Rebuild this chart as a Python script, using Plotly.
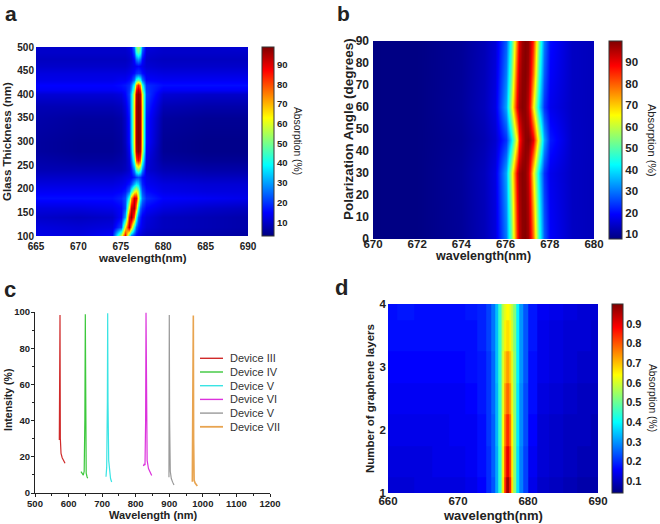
import plotly.graph_objects as go

W, H = 660, 524
FONT = "Arial, Liberation Sans, sans-serif"
INK = "#222"

def px(x):
    return x / W

def py(y):
    return 1 - y / H

JET = [[0, "rgb(0,0,128)"], [0.125, "rgb(0,0,255)"], [0.375, "rgb(0,255,255)"],
       [0.625, "rgb(255,255,0)"], [0.875, "rgb(255,0,0)"], [1, "rgb(128,0,0)"]]

# ---------------- Panel a: absorption (%) vs wavelength and glass thickness
a_wavelength = [665, 670, 674, 675, 675.5, 676, 676.25, 676.5, 676.75, 677, 677.25, 677.5, 678, 680, 685, 690]
a_thickness = [100, 120, 140, 160, 180, 195, 210, 225, 240, 260, 280, 300, 350, 375, 400, 410, 420, 430, 445, 460, 475, 490, 500]
a_absorption = [
    [13, 12, 15, 60, 90, 40, 23, 17, 14, 12, 11, 10, 9, 8, 7, 6],
    [12, 11, 12, 22, 64, 95, 72, 41, 24, 18, 15, 13, 11, 9, 8, 7],
    [10, 9, 10, 15, 31, 88, 98, 79, 45, 25, 18, 14, 12, 9, 8, 7],
    [12, 12, 13, 15, 22, 65, 91, 95, 73, 42, 25, 19, 15, 12, 10, 9],
    [16, 16, 16, 18, 22, 43, 72, 92, 89, 64, 39, 26, 19, 15, 14, 13],
    [14, 14, 14, 15, 17, 25, 41, 59, 64, 54, 34, 22, 16, 13, 12, 12],
    [12, 12, 12, 13, 14, 17, 22, 32, 38, 35, 26, 18, 14, 12, 11, 11],
    [10, 10, 10, 11, 12, 13, 14, 17, 20, 22, 20, 16, 13, 10, 9, 9],
    [8, 8, 8, 8, 9, 11, 16, 27, 44, 50, 44, 27, 11, 8, 7, 7],
    [7, 6, 6, 7, 8, 12, 24, 46, 80, 88, 80, 46, 12, 6, 5, 5],
    [6, 5, 5, 6, 8, 14, 30, 60, 94, 98, 94, 60, 14, 5, 4, 4],
    [6, 5, 5, 6, 9, 16, 33, 63, 96, 99, 96, 63, 16, 5, 4, 4],
    [7, 6, 6, 7, 10, 17, 34, 64, 96, 99, 96, 64, 17, 6, 5, 5],
    [8, 8, 8, 9, 12, 19, 35, 64, 96, 99, 96, 64, 19, 8, 7, 7],
    [11, 11, 11, 12, 15, 21, 35, 62, 94, 98, 94, 62, 21, 11, 10, 10],
    [14, 14, 14, 15, 16, 20, 30, 52, 86, 94, 86, 52, 20, 14, 14, 14],
    [15, 15, 15, 16, 17, 19, 26, 42, 74, 85, 74, 42, 19, 16, 16, 16],
    [13, 13, 13, 14, 14, 16, 18, 26, 42, 48, 42, 26, 15, 14, 14, 14],
    [12, 12, 12, 12, 12, 13, 14, 16, 19, 20, 19, 16, 13, 12, 12, 12],
    [10, 10, 10, 10, 10, 11, 12, 13, 14, 15, 14, 13, 11, 10, 10, 10],
    [9, 9, 9, 9, 9, 10, 11, 16, 26, 30, 26, 16, 10, 9, 9, 9],
    [10, 10, 10, 10, 10, 11, 13, 22, 42, 48, 42, 22, 11, 10, 10, 10],
    [10, 10, 10, 10, 10, 12, 15, 26, 48, 55, 48, 26, 12, 10, 10, 11],
]
a_xticks = [665, 670, 675, 680, 685, 690]
a_yticks = [100, 150, 200, 250, 300, 350, 400, 450, 500]
a_cbticks = [10, 20, 30, 40, 50, 60, 70, 80, 90]

# ---------------- Panel b: absorption (%) vs wavelength and polarization angle
b_wavelength = [670, 672, 674, 675, 675.5, 676, 676.25, 676.5, 676.625, 676.75, 676.875, 677, 677.125, 677.25, 677.5, 677.75, 678, 679, 680]
b_angle = [0, 15, 30, 45, 60, 75, 90]
b_absorption = [
    [8, 8.1, 9.9, 12.8, 16, 30.4, 50.8, 85, 94, 98.3, 99.2, 97, 91, 78.8, 45.6, 27.6, 19, 13.9, 13],
    [8, 8.1, 10, 12.9, 16.3, 32.1, 54.2, 87.4, 95.2, 98.7, 98.8, 95.8, 88.6, 73.8, 42.7, 25.9, 18.4, 13.8, 13],
    [8, 8.1, 10.1, 13.1, 16.7, 34.3, 58.6, 90.6, 96.8, 99.1, 98.4, 94.2, 85.4, 67, 38.9, 23.7, 17.6, 13.8, 13],
    [8, 8.1, 9.6, 12.2, 14.8, 23.7, 38.9, 67, 85.4, 94.2, 98.4, 99.1, 96.8, 90.6, 58.6, 34.3, 21.4, 14, 13],
    [8, 8.1, 10.1, 13.1, 16.7, 34.3, 58.6, 90.6, 96.8, 99.1, 98.4, 94.2, 85.4, 67, 38.9, 23.7, 17.6, 13.8, 13],
    [8, 8.1, 9.9, 12.8, 16, 30.4, 50.8, 85, 94, 98.3, 99.2, 97, 91, 78.8, 45.6, 27.6, 19, 13.9, 13],
    [8, 8.1, 9.8, 12.5, 15.5, 27.6, 45.6, 78.8, 91, 97, 99.2, 98.3, 94, 85, 50.8, 30.4, 20, 13.9, 13],
]
b_xticks = [670, 672, 674, 676, 678, 680]
b_yticks = [0, 10, 20, 30, 40, 50, 60, 70, 80, 90]
b_cbticks = [10, 20, 30, 40, 50, 60, 70, 80, 90]

# ---------------- Panel c: device spectra
c_names = ["Device III", "Device IV", "Device V", "Device VI", "Device V", "Device VII"]
c_colors = ["#d02a2a", "#3cc83c", "#3ae4e4", "#dc32dc", "#9a9a9a", "#e8a450"]
c_x = [
    [572.4, 573.5, 574.5, 575.5, 577.5, 581, 585, 589.4],
    [637, 640, 643.9, 646.5, 648.5, 649.9, 651, 652.5, 655, 657],
    [711.5, 713.5, 715.5, 716.5, 717.5, 719.5, 722, 725, 728.4],
    [822.7, 825, 827.7, 829.5, 830.7, 832, 834, 838, 843, 847.6],
    [899, 899.5, 900, 901, 903, 906, 910, 914],
    [968.6, 970, 971.6, 972.5, 974, 977, 980, 983.5],
]
c_y = [
    [29.3, 70, 98.3, 30, 21.9, 19.5, 17.8, 16.4],
    [11.8, 10.8, 9.9, 12, 40, 98.7, 40, 11, 9, 8.1],
    [9, 14, 50, 99.3, 50, 18, 11, 8, 6.1],
    [14.9, 15.8, 15.5, 40, 99.6, 40, 18, 13.5, 11, 9.6],
    [8.7, 40, 98.3, 40, 12, 8, 6, 4.4],
    [6.2, 40, 98, 30, 7, 5.5, 4.6, 3.9],
]
c_widths = [1.2, 1.2, 1.2, 1.2, 1.2, 1.6]
c_xticks = [500, 600, 700, 800, 900, 1000, 1100, 1200]
c_yticks = [0, 20, 40, 60, 80, 100]

# ---------------- Panel d: absorption vs wavelength and number of graphene layers
d_wavelength = [660, 662.5, 665, 667.5, 670, 672, 673.5, 674.5, 675, 675.5, 676, 676.25, 676.5, 676.75,
                677, 677.25, 677.5, 677.75, 678, 678.5, 679, 679.5, 680.5, 682, 684, 686, 688, 690]
d_layers = [1, 1.5, 2, 2.5, 3, 3.5, 4]
d_absorption = [
    [.12, .12, .13, .13, .13, .14, .16, .20, .24, .32, .44, .53, .66, .85, .97, .97, .85, .66, .53, .37, .28, .22, .14, .11, .10, .09, .08, .08],
    [.13, .13, .13, .14, .14, .15, .17, .20, .25, .32, .44, .53, .65, .81, .90, .90, .81, .65, .53, .37, .28, .22, .15, .12, .11, .10, .09, .09],
    [.14, .14, .14, .14, .15, .15, .17, .21, .25, .33, .45, .53, .64, .77, .84, .84, .77, .64, .53, .38, .29, .23, .16, .12, .11, .10, .10, .09],
    [.15, .15, .15, .15, .15, .16, .18, .21, .26, .33, .45, .53, .62, .73, .78, .78, .73, .62, .53, .38, .29, .23, .17, .13, .12, .11, .10, .10],
    [.16, .16, .16, .16, .16, .17, .18, .21, .26, .34, .45, .53, .61, .69, .73, .73, .69, .61, .53, .39, .30, .24, .17, .14, .13, .12, .11, .11],
    [.17, .17, .17, .17, .17, .17, .19, .22, .27, .34, .45, .52, .59, .65, .67, .67, .65, .59, .52, .39, .30, .24, .18, .14, .13, .12, .12, .11],
    [.17, .18, .17, .17, .17, .18, .19, .22, .27, .34, .45, .52, .58, .62, .64, .64, .62, .58, .52, .39, .30, .24, .18, .15, .14, .13, .12, .12],
]
d_xticks = [660, 670, 680, 690]
d_yticks = [1, 2, 3, 4]
d_cbticks = [0.1, 0.2, 0.3, 0.4, 0.5, 0.6, 0.7, 0.8, 0.9]

fig = go.Figure()


def cbar(x0, y0, y1, thick, ticks, fs):
    return dict(
        x=px(x0), xanchor="left", xpad=0, ypad=0,
        y=py((y0 + y1) / 2), yanchor="middle",
        len=(y1 - y0) / H, lenmode="fraction",
        thickness=thick, thicknessmode="pixels",
        outlinewidth=1, outlinecolor="#333",
        tickvals=ticks, ticks="", ticklabelposition="outside",
        tickfont=dict(family=FONT, size=fs, color=INK, weight="bold"),
    )


fig.add_trace(go.Heatmap(
    x=a_wavelength, y=a_thickness, z=a_absorption, colorscale=JET,
    zmin=3, zmax=99, zsmooth="best", xaxis="x", yaxis="y",
    colorbar=cbar(262, 47, 236, 12, a_cbticks, 9.5), hoverinfo="skip"))

fig.add_trace(go.Heatmap(
    x=b_wavelength, y=b_angle, z=b_absorption, colorscale=JET,
    zmin=7.7, zmax=99.8, zsmooth="best", xaxis="x2", yaxis="y2",
    colorbar=cbar(609, 41, 239, 13, b_cbticks, 11.5), hoverinfo="skip"))

for name, col, xs, ys, lw in zip(c_names, c_colors, c_x, c_y, c_widths):
    fig.add_trace(go.Scatter(x=xs, y=ys, mode="lines", name=name,
                             line=dict(color=col, width=lw),
                             xaxis="x3", yaxis="y3", showlegend=False))

fig.add_trace(go.Heatmap(
    x=d_wavelength, y=d_layers, z=d_absorption, colorscale=JET,
    zmin=0.04, zmax=1.0, zsmooth=False, xaxis="x4", yaxis="y4",
    colorbar=cbar(612, 304, 493, 11, d_cbticks, 11), hoverinfo="skip"))


def hm_axis(dom, rng, ticks, fs, anchor, standoff):
    return dict(domain=dom, range=rng, tickvals=ticks, anchor=anchor, automargin=False,
                showgrid=False, zeroline=False, showline=False, ticks="",
                ticklabelstandoff=standoff,
                tickfont=dict(family=FONT, size=fs, color=INK, weight="bold"))


def line_axis(dom, rng, ticks, anchor, minor_dtick, standoff):
    return dict(domain=dom, range=rng, tickvals=ticks, anchor=anchor, automargin=False,
                showgrid=False, zeroline=False, showline=True, linecolor=INK, linewidth=1,
                ticks="outside", ticklen=3, tickcolor=INK, tickwidth=1,
                ticklabelstandoff=standoff,
                minor=dict(ticks="outside", ticklen=2, dtick=minor_dtick, tickcolor=INK, showgrid=False),
                tickfont=dict(family=FONT, size=9.5, color=INK, weight="bold"))


fig.update_layout(
    template="none",
    width=W, height=H, margin=dict(l=0, r=0, t=0, b=0),
    paper_bgcolor="white", plot_bgcolor="white", showlegend=False,
    xaxis=hm_axis([px(36), px(248)], [665, 690], a_xticks, 10, "y", 3),
    yaxis=hm_axis([py(236), py(47)], [100, 500], a_yticks, 10, "x", 1),
    xaxis2=hm_axis([px(373), px(594)], [670, 680], b_xticks, 11.5, "y2", -4),
    yaxis2=hm_axis([py(239), py(41)], [0, 90], b_yticks, 12, "x2", 3),
    xaxis4=hm_axis([px(388), px(598)], [660, 690], d_xticks, 11.5, "y4", -1),
    yaxis4=hm_axis([py(493), py(304)], [1, 4], d_yticks, 11.5, "x4", 1),
    xaxis3=line_axis([px(35), px(270)], [500, 1200], c_xticks, "y3", 50, -1),
    yaxis3=line_axis([py(493), py(312)], [0, 100], c_yticks, "x3", 10, -1),
)

ann = []


def text(x, y, s, size, bold=True, angle=0, xanchor="center", yanchor="middle", color=INK):
    ann.append(dict(x=px(x), y=py(y), xref="paper", yref="paper", text=s, showarrow=False,
                    xanchor=xanchor, yanchor=yanchor, textangle=angle,
                    font=dict(family=FONT, size=size, color=color, weight="bold" if bold else "normal")))


# panel letters
text(11, 0, "a", 21, yanchor="top")
text(343, 0, "b", 21, yanchor="top")
text(10, 289, "c", 22)
text(341, 287, "d", 22)

# axis titles
text(142, 258, "wavelength(nm)", 11.5)
text(7, 142, "Glass Thickness (nm)", 11.5, angle=-90)
text(298, 141, "Absorption (%)", 10.3, bold=False, angle=90)

text(483, 256, "wavelength(nm)", 12.5)
text(348, 129, "Polarization Angle (degrees)", 13.5, angle=-90)
text(652, 140, "Absorption (%)", 11, bold=False, angle=90)

text(153, 515, "Wavelength (nm)", 11)
text(8, 400, "Intensity (%)", 10.5, angle=-90)

text(493, 515, "wavelength(nm)", 13)
text(370, 398, "Number of graphene layers", 11.5, angle=-90)
text(653, 398, "Absorption (%)", 10.3, bold=False, angle=90)

# legend for panel c
shapes = []
leg_y0, leg_dy = 358.3, 13.7
for i, (name, col, lw) in enumerate(zip(c_names, c_colors, c_widths)):
    yy = leg_y0 + i * leg_dy
    shapes.append(dict(type="line", xref="paper", yref="paper", x0=px(200), x1=px(223),
                       y0=py(yy), y1=py(yy), line=dict(color=col, width=lw + 0.2)))
    text(228, yy, name, 11, bold=False, xanchor="left", color="#333")

fig.update_layout(annotations=ann, shapes=shapes)
fig.write_html("out.html", config={"displayModeBar": False},
               post_script="document.body.style.margin='0px';")
